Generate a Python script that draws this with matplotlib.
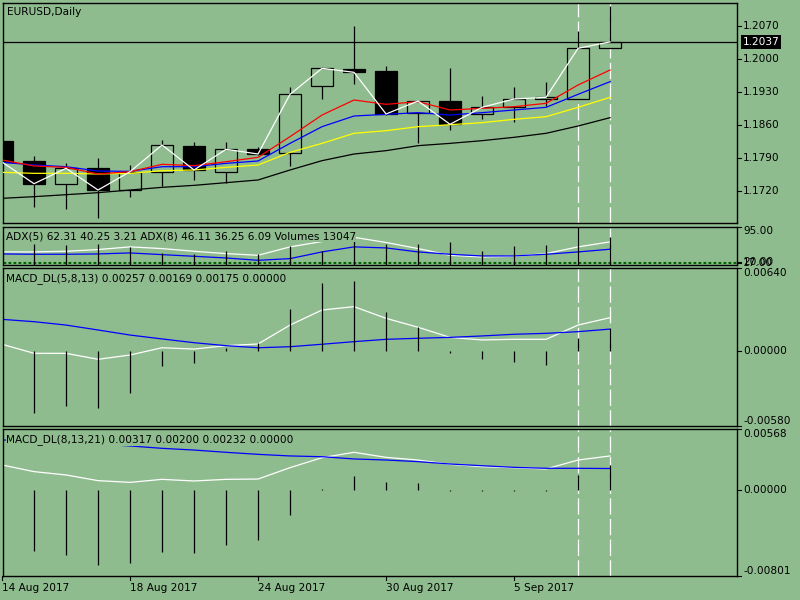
import matplotlib
matplotlib.use("Agg")
import matplotlib.pyplot as plt
from matplotlib.transforms import blended_transform_factory as blend

BG = "#8FBC8F"
FS = 7.6
W, H = 800, 600
LEFT, RIGHT = 3, 737            # plot area in pixels
XLIM = (0.03, 0.03 + (RIGHT - LEFT) / 32)   # one bar every 32 px

# ---- price chart (EURUSD daily, 14 Aug - 8 Sep 2017) ----
opens = [1.18267, 1.17843, 1.17361, 1.17688, 1.17227, 1.17603, 1.18161, 1.17616, 1.18097, 1.18019,
         1.19440, 1.19794, 1.19752, 1.18854, 1.19115, 1.18833, 1.18982, 1.19151, 1.19164, 1.20233]
highs = [1.18300, 1.17955, 1.17794, 1.17906, 1.17758, 1.18288, 1.18252, 1.18252, 1.18140, 1.19406,
         1.19830, 1.20706, 1.19858, 1.19115, 1.19815, 1.19221, 1.19406, 1.19525, 1.20600, 1.21131]
lows = [1.17780, 1.16873, 1.16824, 1.16640, 1.17085, 1.17319, 1.17440, 1.17382, 1.17970, 1.17743,
        1.19158, 1.19470, 1.18820, 1.18231, 1.18500, 1.18734, 1.18676, 1.19009, 1.19164, 1.20233]
closes = [1.17821, 1.17361, 1.17688, 1.17227, 1.17616, 1.18182, 1.17652, 1.18091, 1.17991, 1.19258,
          1.19809, 1.19724, 1.18840, 1.19115, 1.18621, 1.18982, 1.19158, 1.19194, 1.20233, 1.20370]
ma_red = [1.17864, 1.17737, 1.17708, 1.17567, 1.17616, 1.17772, 1.17744, 1.17828, 1.17920, 1.18359,
          1.18818, 1.19137, 1.19045, 1.19101, 1.18925, 1.18960, 1.18995, 1.19066, 1.19455, 1.19773]
ma_blue = [1.17814, 1.17758, 1.17722, 1.17630, 1.17623, 1.17722, 1.17722, 1.17793, 1.17843, 1.18217,
           1.18571, 1.18797, 1.18833, 1.18868, 1.18818, 1.18868, 1.18925, 1.18981, 1.19257, 1.19526]
ma_yellow = [1.17602, 1.17581, 1.17581, 1.17567, 1.17581, 1.17637, 1.17652, 1.17708, 1.17758, 1.18026,
             1.18217, 1.18430, 1.18486, 1.18571, 1.18613, 1.18656, 1.18727, 1.18783, 1.18981, 1.19193]
ma_black = [1.17051, 1.17086, 1.17128, 1.17171, 1.17227, 1.17284, 1.17326, 1.17383, 1.17440, 1.17652,
            1.17850, 1.17991, 1.18062, 1.18168, 1.18217, 1.18274, 1.18345, 1.18430, 1.18585, 1.18762]
last_price = 1.2037
price_ticks = [1.1720, 1.1790, 1.1860, 1.1930, 1.2000, 1.2070]

# ---- ADX + volumes window ----
adx5 = [40.9, 40.9, 42.3, 45.9, 51.6, 48.0, 42.3, 37.3, 33.7, 51.6,
        63.0, 72.0, 61.0, 48.0, 33.7, 30.2, 31.6, 37.3, 51.6, 62.3]
adx8 = [36.6, 35.9, 35.9, 36.6, 38.7, 35.1, 31.6, 28.0, 23.0, 26.6,
        40.9, 51.6, 49.4, 40.9, 35.9, 32.3, 32.3, 35.9, 40.9, 46.6]
volumes = [9000, 9958, 9220, 9819, 8436, 5532, 5209, 6454, 5348, 8897,
           6454, 11525, 9681, 9819, 10741, 6592, 8897, 9220, 17656, 13047]
adx_levels = [20.0, 17.0]

# ---- MACD_DL(5,8,13) ----
macd1_main = [0.00052, -0.00018, -0.00018, -0.00064, -0.00031, 0.00025, 0.00015, 0.00041, 0.00054, 0.00200,
              0.00316, 0.00342, 0.00252, 0.00183, 0.00105, 0.00085, 0.00090, 0.00090, 0.00200, 0.00257]
macd1_signal = [0.00244, 0.00226, 0.00200, 0.00162, 0.00123, 0.00093, 0.00064, 0.00041, 0.00025, 0.00033,
                0.00052, 0.00072, 0.00090, 0.00098, 0.00105, 0.00116, 0.00129, 0.00136, 0.00149, 0.00169]
macd1_hist = [-0.00400, -0.00480, -0.00422, -0.00437, -0.00321, -0.00113, -0.00090, 0.00021, 0.00059, 0.00321,
              0.00522, 0.00540, 0.00298, 0.00183, -0.00013, -0.00064, -0.00082, -0.00108, 0.00103, 0.00175]

# ---- MACD_DL(8,13,21) ----
macd2_main = [0.00233, 0.00171, 0.00140, 0.00087, 0.00071, 0.00099, 0.00084, 0.00099, 0.00102, 0.00208,
              0.00301, 0.00351, 0.00304, 0.00279, 0.00239, 0.00217, 0.00208, 0.00196, 0.00279, 0.00317]
macd2_signal = [0.00466, 0.00456, 0.00442, 0.00428, 0.00410, 0.00388, 0.00372, 0.00351, 0.00332, 0.00317,
                0.00310, 0.00289, 0.00279, 0.00264, 0.00242, 0.00226, 0.00211, 0.00202, 0.00202, 0.00200]
macd2_hist = [-0.00550, -0.00568, -0.00605, -0.00698, -0.00677, -0.00574, -0.00584, -0.00512, -0.00466, -0.00233,
              0.00005, 0.00133, 0.00077, 0.00062, -0.00005, -0.00010, -0.00007, -0.00005, 0.00140, 0.00232]

date_labels = ["14 Aug 2017", "18 Aug 2017", "24 Aug 2017", "30 Aug 2017", "5 Sep 2017"]
date_bars = [0, 4, 8, 12, 16]
marked_bars = [18, 19]

bars = list(range(len(closes)))
fig = plt.figure(figsize=(W / 100, H / 100), dpi=100)
fig.patch.set_facecolor(BG)


def panel(top, bottom, ylim, frame=True):
    ax = fig.add_axes([LEFT / W, 1 - bottom / H, (RIGHT - LEFT) / W, (bottom - top) / H], frameon=frame)
    ax.set_facecolor(BG if frame else "none")
    ax.set_xlim(*XLIM); ax.set_ylim(*ylim)
    ax.set_xticks([]); ax.set_yticks([])
    for s in ax.spines.values():
        s.set_color("black"); s.set_linewidth(1.0)
    return ax


def rlabel(ax, value, text, va="center"):
    tr = blend(ax.transAxes, ax.transData)
    ax.plot([1.0, 1.006], [value, value], transform=tr, color="black", lw=0.8, clip_on=False)
    ax.text(1.0082, value, text, transform=tr, ha="left", va=va, fontsize=FS, clip_on=False)


def header(ax, text, y_frac):
    ax.text(0.004, y_frac, text, transform=ax.transAxes, ha="left", va="center", fontsize=FS,
            zorder=10, bbox=dict(facecolor=BG, edgecolor="none", pad=0.3))


def marks(ax):
    # dashed white markers sit behind the bars and histograms
    for b in marked_bars:
        ax.axvline(b, color="white", lw=0.9, ls=(0, (13, 3.5)), zorder=1)


# main price chart
ax = panel(2.7, 223.3, (1.16521, 1.21201))
marks(ax)
ax.vlines(bars, lows, highs, color="black", lw=0.9, zorder=2)
for b in bars:
    o, c = opens[b], closes[b]
    ax.bar(b, max(abs(c - o), 0.00003), bottom=min(o, c), width=0.71,
           color="black" if c < o else BG, edgecolor="black", lw=0.9, zorder=3)
ax.plot(bars, ma_black, color="black", lw=0.9, zorder=4)
ax.plot(bars, ma_yellow, color="#FFFF00", lw=0.9, zorder=4)
ax.plot(bars, ma_blue, color="#0000FF", lw=0.9, zorder=4)
ax.plot(bars, ma_red, color="#FF0000", lw=0.9, zorder=4)
ax.plot(bars, closes, color="white", lw=0.9, zorder=5)
ax.axhline(last_price, color="black", lw=0.9, zorder=4)
for p in price_ticks:
    rlabel(ax, p, f"{p:.4f}")
ax.text(1.0082, last_price, f"{last_price:.4f}", transform=blend(ax.transAxes, ax.transData),
        ha="left", va="center", fontsize=FS, color="white", clip_on=False,
        bbox=dict(facecolor="black", edgecolor="none", pad=1.2))
ax.text(0.0055, 0.957, "EURUSD,Daily", transform=ax.transAxes, ha="left", va="center", fontsize=FS)

# ADX window with volumes overlay
ax = panel(226.5, 265.3, (12.4, 95.0))
marks(ax)
for lv in adx_levels:
    ax.axhline(lv, color="#006400", lw=0.8, ls=(0, (2.5, 2)))
ax.plot(bars, adx5, color="white", lw=0.9)
ax.plot(bars, adx8, color="#0000FF", lw=0.9)
rlabel(ax, 95.0, "95.00", va="top")
for lv in adx_levels:
    rlabel(ax, lv, f"{lv:.2f}")
axv = panel(226.5, 265.3, (0, 17795), frame=False)
axv.vlines(bars, 0, volumes, color="black", lw=0.9)
header(axv, "ADX(5) 62.31 40.25 3.21 ADX(8) 46.11 36.25 6.09 Volumes 13047", 0.74)

# MACD_DL(5,8,13)
ax = panel(268.0, 426.2, (-0.0058, 0.0064))
marks(ax)
ax.vlines(bars, 0, macd1_hist, color="black", lw=0.9, zorder=3)
ax.plot(bars, macd1_main, color="white", lw=0.9, zorder=2)
ax.plot(bars, macd1_signal, color="#0000FF", lw=0.9, zorder=2)
rlabel(ax, 0.0064, "0.00640", va="top")
rlabel(ax, 0.0, "0.00000")
rlabel(ax, -0.0058, "-0.00580", va="bottom")
header(ax, "MACD_DL(5,8,13) 0.00257 0.00169 0.00175 0.00000", 0.935)

# MACD_DL(8,13,21)
ax = panel(429.0, 576.0, (-0.00801, 0.00568))
marks(ax)
ax.vlines(bars, 0, macd2_hist, color="black", lw=0.9, zorder=3)
ax.plot(bars, macd2_main, color="white", lw=0.9, zorder=2)
ax.plot(bars, macd2_signal, color="#0000FF", lw=0.9, zorder=2)
rlabel(ax, 0.00568, "0.00568", va="top")
rlabel(ax, 0.0, "0.00000")
rlabel(ax, -0.00801, "-0.00801", va="bottom")
header(ax, "MACD_DL(8,13,21) 0.00317 0.00200 0.00232 0.00000", 0.925)

# date axis
trx = blend(ax.transData, ax.transAxes)
for b, lab in zip(date_bars, date_labels):
    ax.plot([b, b], [0, -0.03], transform=trx, color="black", lw=0.8, clip_on=False)
    ax.text(b, -0.082, lab, transform=trx, ha="left", va="center", fontsize=FS, clip_on=False)

fig.savefig("out.png", dpi=100, facecolor=BG)
